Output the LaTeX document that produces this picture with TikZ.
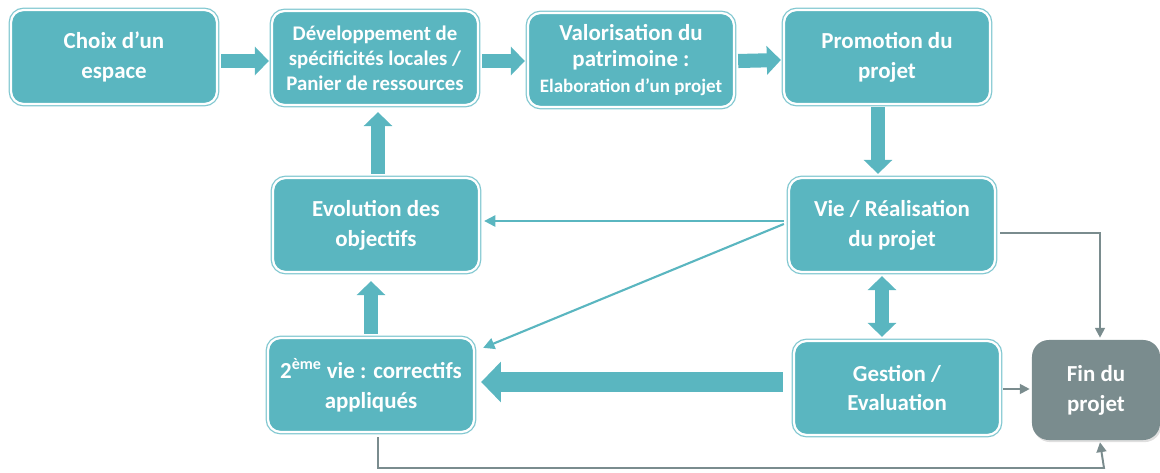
\documentclass[tikz,border=0pt]{standalone}
\usepackage{fontspec}
\setmainfont{Carlito}
\usetikzlibrary{positioning,calc,arrows.meta,shadows}
\definecolor{TealBox}{RGB}{90,182,192}
\definecolor{TealLine}{RGB}{130,200,209}
\definecolor{FinGray}{RGB}{122,140,142}
\tikzset{
	etape/.style={fill=TealBox,draw=white,line width=1.6pt,rounded corners=9pt,
		preaction={draw=TealLine,line width=3.4pt},
		text=white,align=center,inner sep=2pt,
		minimum width=5.15cm,minimum height=2.35cm,
		font=\bfseries\fontsize{16.3}{21.3}\selectfont},
	petit/.style={font=\bfseries\fontsize{14.8}{17.8}\selectfont},
	finbox/.style={fill=FinGray,rounded corners=12pt,text=white,align=center,
		minimum width=3.2cm,minimum height=2.5cm,
		drop shadow={opacity=0.25,shadow xshift=1pt,shadow yshift=-1.5pt},
		font=\bfseries\fontsize{16.3}{21.3}\selectfont},
	bloc/.style={draw=TealBox,line width=10pt,-{Triangle[length=10pt,width=20pt]}},
	large/.style={draw=TealBox,line width=14pt,-{Triangle[length=14pt,width=28pt]}},
	double bloc/.style={draw=TealBox,line width=10pt,{Triangle[length=10pt,width=20pt]}-{Triangle[length=10pt,width=20pt]}},
	fine/.style={draw=TealBox,line width=1.5pt,-{Triangle[length=8pt,width=8pt]}},
	grise/.style={draw=FinGray,line width=1.4pt,-{Triangle[length=7pt,width=7pt]}},
}
\begin{document}
\begin{tikzpicture}[x=0.025cm,y=-0.025cm]
	\useasboundingbox (0,0) rectangle (1160,473);
	% etapes
	\node[etape] (choix) at (114,57) {Choix d’un\\espace};
	\node[etape,petit] (dev) at (375,58) {Développement de\\spécificités locales /\\Panier de ressources};
	\node[etape,font=\bfseries\fontsize{16.3}{18.5}\selectfont] (valo) at (631,60) {Valorisation du\\patrimoine :\\{\fontsize{13.5}{18.5}\selectfont Elaboration d’un projet}};
	\node[etape] (promo) at (887,57) {Promotion du\\projet};
	\node[etape] (evol) at (376,225) {Evolution des\\objectifs};
	\node[etape] (vie) at (892,225) {Vie / Réalisation\\du projet};
	\node[etape] (deux) at (371,385) {2\textsuperscript{ème} vie : correctifs\\appliqués};
	\node[etape] (gestion) at (897,388) {Gestion /\\Evaluation};
	\node[finbox] (fin) at (1096,390) {Fin du\\projet};
	% fleches pleines
	\draw[bloc] ($(choix.east)+(3,4)$) -- ($(dev.west)+(-2,3)$);
	\draw[bloc] ($(dev.east)+(3,3)$) -- ($(valo.west)+(-2,1)$);
	\draw[bloc] ($(valo.east)+(3,1)$) -- ($(promo.west)+(-2,3)$);
	\draw[bloc] ($(promo.south)+(-9,2)$) -- ($(vie.north)+(-14,-3)$);
	\draw[bloc] ($(evol.north)+(2,-3)$) -- ($(dev.south)+(3,6)$);
	\draw[bloc] ($(deux.north)+(0,-3)$) -- ($(evol.south)+(-5,8)$);
	\draw[double bloc] ($(vie.south)+(-10,3)$) -- ($(gestion.south |- gestion.north)+(-15,-3)$);
	\draw[large] ($(gestion.west)+(-10,-6)$) -- ($(deux.east)+(6,-3)$);
	% fleches fines
	\draw[fine] ($(vie.west)+(-4,-4)$) -- ($(evol.east)+(4,-4)$);
	\draw[fine] ($(vie.west)+(-4,-1)$) -- ($(deux.north east)+(8,11)$);
	\draw[grise] ($(vie.east)+(4,8)$) -| ($(fin.north)+(4,-2)$);
	\draw[grise] ($(gestion.east)+(2,1)$) -- ($(fin.west)+(-2,-1)$);
	\draw[grise] ($(deux.south)+(7,4)$) |- (1104,468) -- ($(fin.south)+(4,2)$);
\end{tikzpicture}
\end{document}
